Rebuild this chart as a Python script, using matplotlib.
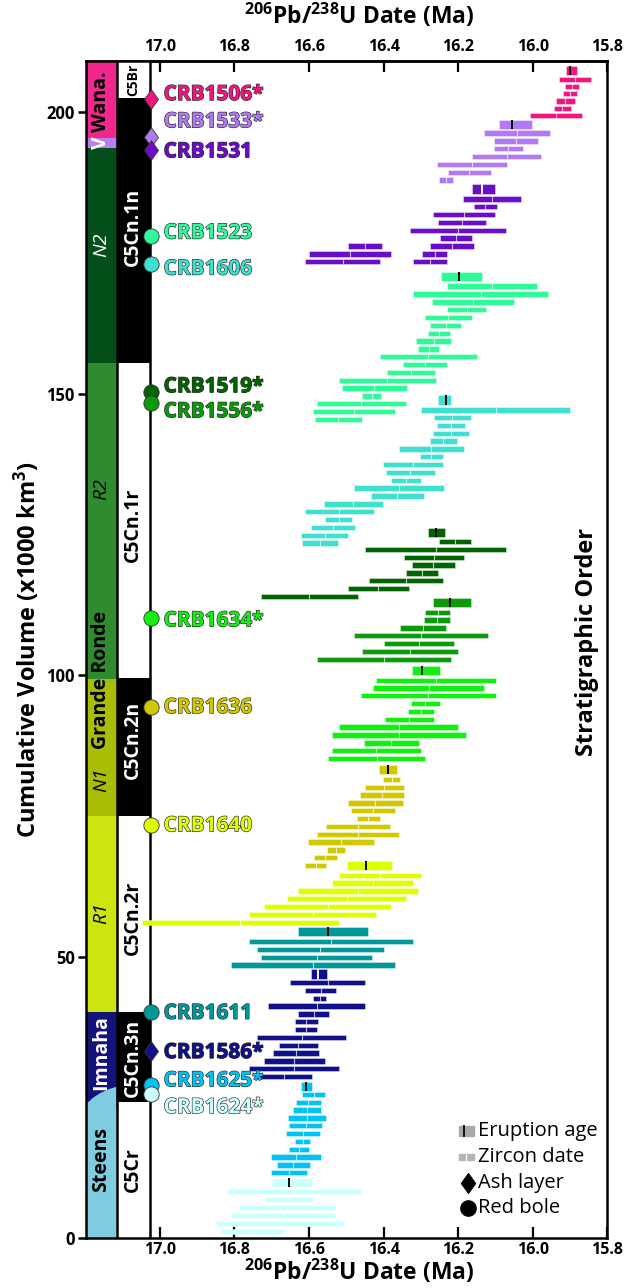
import matplotlib
matplotlib.use("Agg")
import matplotlib.pyplot as plt
import matplotlib.patheffects as pe
from matplotlib.patches import Rectangle
from matplotlib.path import Path

plt.rcParams['font.family'] = ['Open Sans', 'DejaVu Sans']
plt.rcParams['mathtext.fontset'] = 'custom'
plt.rcParams['mathtext.bf'] = 'Open Sans:bold'
plt.rcParams['mathtext.rm'] = 'Open Sans:bold'

# ---- samples (top of section to bottom) ----
sample_names = ['CRB1506*', 'CRB1533*', 'CRB1531', 'CRB1523', 'CRB1606', 'CRB1519*', 'CRB1556*',
                'CRB1634*', 'CRB1636', 'CRB1640', 'CRB1611', 'CRB1586*', 'CRB1625*', 'CRB1624*']
sample_colors = ['#F2157F', '#B27AF2', '#6A0DC8', '#2EFB98', '#40E0D0', '#006400', '#0A9A0A',
                 '#11F011', '#D1C900', '#DDFF00', '#009999', '#10108A', '#00C3F5', '#CCFFFF']
sample_kind = ['ash', 'ash', 'ash', 'bole', 'bole', 'bole', 'bole',
               'bole', 'bole', 'bole', 'bole', 'ash', 'bole', 'bole']
marker_y = [202.34, 195.65, 193.28, 178.0, 172.97, 150.35, 148.4, 110.1, 94.4, 73.4, 40.1, 33.3, 27.2, 25.6]
label_y = [203.14, 198.31, 192.98, 178.54, 172.14, 151.24, 146.80, 109.65, 94.24, 73.23, 39.92, 32.95, 27.93, 23.18]

# eruption ages: (y, oldest, youngest, weighted mean)
eruption = [(207.44, 15.911, 15.882, 15.901), (197.85, 16.091, 16.003, 16.055),
            (186.35, 16.163, 16.102, 16.137), (170.77, 16.246, 16.136, 16.197),
            (148.87, 16.254, 16.219, 16.234), (125.37, 16.282, 16.236, 16.261),
            (112.86, 16.267, 16.166, 16.222), (100.78, 16.325, 16.249, 16.296),
            (83.26, 16.412, 16.365, 16.389), (66.21, 16.498, 16.378, 16.447),
            (54.41, 16.630, 16.443, 16.550), (46.90, 16.594, 16.552, 16.576),
            (26.95, 16.621, 16.591, 16.607), (9.82, 16.699, 16.592, 16.653)]
tick_colors = ['k', 'k', 'white', 'k', 'k', 'k', 'k', 'k', 'k', 'k', 'k', 'white', 'k', 'k']

# zircon dates: (y, oldest, youngest)
z1506 = [(205.84, 15.930, 15.844), (204.53, 15.913, 15.876), (203.29, 15.920, 15.883),
         (201.99, 15.938, 15.888), (200.69, 15.944, 15.898), (199.45, 16.008, 15.867)]
z1533 = [(196.30, 16.132, 15.954), (194.88, 16.104, 15.986), (193.51, 16.105, 16.026),
         (192.09, 16.163, 15.977), (190.74, 16.257, 16.069), (189.32, 16.228, 16.113),
         (187.95, 16.252, 16.215)]
z1531 = [(184.58, 16.188, 16.032), (183.21, 16.158, 16.097), (181.79, 16.268, 16.101),
         (180.44, 16.254, 16.126), (179.02, 16.329, 16.071), (177.65, 16.248, 16.163),
         (176.23, 16.276, 16.157), (176.23, 16.495, 16.405), (174.81, 16.296, 16.231),
         (174.81, 16.600, 16.380), (173.44, 16.322, 16.231), (173.44, 16.610, 16.410)]
z1523 = [(169.12, 16.229, 15.990), (167.70, 16.320, 15.960), (166.28, 16.270, 16.050),
         (164.91, 16.229, 16.125), (163.49, 16.289, 16.164), (162.14, 16.276, 16.192),
         (160.72, 16.280, 16.223), (159.35, 16.313, 16.219), (157.93, 16.308, 16.251),
         (156.56, 16.410, 16.150), (155.14, 16.347, 16.229), (153.79, 16.391, 16.263),
         (152.37, 16.520, 16.260), (151.00, 16.513, 16.338), (149.58, 16.458, 16.407),
         (148.21, 16.579, 16.340), (146.79, 16.589, 16.370), (145.44, 16.584, 16.459)]
z1606 = [(147.09, 16.300, 15.900), (145.73, 16.266, 16.165), (144.38, 16.257, 16.182),
         (142.95, 16.269, 16.170), (141.59, 16.276, 16.204), (140.17, 16.359, 16.185),
         (138.80, 16.302, 16.242), (137.38, 16.402, 16.242), (136.03, 16.394, 16.263),
         (134.60, 16.380, 16.299), (133.24, 16.480, 16.239), (131.82, 16.433, 16.293),
         (130.40, 16.561, 16.401), (129.03, 16.612, 16.426), (127.61, 16.556, 16.485),
         (126.26, 16.594, 16.476), (124.83, 16.621, 16.496), (123.47, 16.620, 16.522)]
z1519 = [(123.70, 16.252, 16.167), (122.35, 16.449, 16.071), (120.93, 16.346, 16.184),
         (119.56, 16.325, 16.210), (118.14, 16.340, 16.255), (116.77, 16.439, 16.240),
         (115.35, 16.495, 16.333), (114.00, 16.730, 16.470)]
z1556 = [(111.15, 16.288, 16.221), (109.79, 16.293, 16.221), (108.37, 16.357, 16.232),
         (107.00, 16.480, 16.120), (105.58, 16.398, 16.211), (104.16, 16.459, 16.200),
         (102.81, 16.579, 16.220)]
z1634 = [(99.07, 16.420, 16.100), (97.71, 16.429, 16.130), (96.34, 16.460, 16.100),
         (94.92, 16.327, 16.249), (93.57, 16.335, 16.266), (92.15, 16.396, 16.266),
         (90.78, 16.520, 16.200), (89.36, 16.539, 16.180), (87.94, 16.454, 16.304),
         (86.57, 16.539, 16.300), (85.15, 16.549, 16.289)]
z1636 = [(81.49, 16.402, 16.355), (80.07, 16.451, 16.346), (78.70, 16.464, 16.346),
         (77.28, 16.496, 16.348), (75.91, 16.488, 16.369), (74.49, 16.472, 16.411),
         (73.14, 16.555, 16.383), (71.72, 16.579, 16.359), (70.35, 16.602, 16.426),
         (68.93, 16.552, 16.504), (67.56, 16.588, 16.524), (66.14, 16.610, 16.555)]
z1640 = [(64.43, 16.520, 16.300), (63.07, 16.539, 16.320), (61.64, 16.630, 16.309),
         (60.28, 16.659, 16.340), (58.86, 16.720, 16.379), (57.50, 16.760, 16.420),
         (56.08, 17.049, 16.520)]
z1611 = [(52.64, 16.760, 16.320), (51.29, 16.739, 16.400), (49.87, 16.730, 16.430),
         (48.50, 16.810, 16.370)]
z1586 = [(45.35, 16.650, 16.450), (44.00, 16.610, 16.528), (42.58, 16.589, 16.554),
         (41.21, 16.710, 16.450), (39.79, 16.630, 16.546), (38.43, 16.639, 16.576),
         (37.00, 16.638, 16.579), (35.65, 16.739, 16.500), (34.23, 16.681, 16.576),
         (32.87, 16.697, 16.572), (31.44, 16.721, 16.558), (30.08, 16.760, 16.520),
         (28.65, 16.741, 16.593)]
z1625 = [(25.53, 16.619, 16.557), (24.11, 16.636, 16.569), (22.74, 16.644, 16.567),
         (21.32, 16.656, 16.554), (19.95, 16.653, 16.566), (18.60, 16.662, 16.570),
         (17.18, 16.637, 16.597), (15.76, 16.654, 16.600), (14.39, 16.702, 16.568),
         (12.97, 16.686, 16.598), (11.60, 16.701, 16.606)]
z1624 = [(8.23, 16.820, 16.460), (6.80, 16.715, 16.589), (5.38, 16.789, 16.530),
         (4.03, 16.809, 16.530), (2.61, 16.849, 16.510), (1.19, 16.838, 16.670)]
zircons = [z1506, z1533, z1531, z1523, z1606, z1519, z1556, z1634, z1636, z1640,
           z1611, z1586, z1625, z1624]

# ---- stratigraphic column ----
strat_names = ['Wana.', 'V', 'N2', 'R2', 'N1', 'R1', 'Imnaha', 'Steens']
strat_top = [209.1, 195.47, 193.69, 155.50, 99.31, 75.02, 40.10, 26.88]
strat_bottom = [195.47, 193.69, 155.50, 99.31, 75.02, 40.10, 23.0, 0.0]
strat_colors = ['#F0278C', '#B67FF2', '#054F1A', '#2E8B2E', '#A9BD04', '#CDE40F', '#14137A', '#7FCBDF']
strat_text_y = [201.8, 194.6, 176.4, 133.1, 81.5, 57.7, 33.0, 13.9]
strat_text_color = ['k', 'white', 'white', 'k', 'k', 'k', 'white', 'k']
strat_italic = [False, False, True, True, True, True, False, False]
# curved Imnaha / Steens contact
contact_x = [17.198, 17.179, 17.161, 17.138, 17.116]
contact_y = [23.80, 24.92, 25.71, 26.42, 26.88]

# ---- magnetic polarity column ----
chron_names = ['C5Br', 'C5Cn.1n', 'C5Cn.1r', 'C5Cn.2n', 'C5Cn.2r', 'C5Cn.3n', 'C5Cr']
chron_top = [209.1, 202.47, 155.4, 99.43, 75.02, 40.2, 24.21]
chron_bottom = [202.47, 155.4, 99.43, 75.02, 40.2, 24.21, 0.0]
chron_normal = [False, True, False, True, False, True, False]
chron_text_y = [205.8, 179.6, 126.7, 88.5, 56.8, 32.0, 12.1]

x_ticks = [17.0, 16.8, 16.6, 16.4, 16.2, 16.0, 15.8]
y_ticks = [0, 50, 100, 150, 200]

X_LEFT, X_RIGHT = 17.198, 15.8
STRAT_R, CHRON_R = 17.116, 17.027
MARK_X, LABEL_X = 17.024, 16.990

fig = plt.figure(figsize=(6.24, 12.88), dpi=100)
ax = fig.add_axes([0.1378, 0.0388, 0.8357, 0.9138])
ax.set_xlim(X_LEFT, X_RIGHT)
ax.set_ylim(0, 209.1)

# stratigraphic column
for name, top, bot, col, ty, tc, it in zip(strat_names, strat_top, strat_bottom, strat_colors,
                                          strat_text_y, strat_text_color, strat_italic):
    if name == 'Steens':
        xs = [X_LEFT, STRAT_R] + contact_x[::-1] + [X_LEFT]
        ys = [0, 0] + contact_y[::-1] + [0]
        ax.fill(xs, ys, color=col, lw=0, zorder=1.1)
    else:
        ax.fill_betweenx([bot, top], X_LEFT, STRAT_R, color=col, lw=0, zorder=1)
    ax.text((X_LEFT + STRAT_R) / 2, ty, name, rotation=90, ha='center', va='center',
            rotation_mode='anchor', color=tc, fontsize=14,
            fontweight='normal' if it else 'bold', fontstyle='italic' if it else 'normal', zorder=2)
ax.text((X_LEFT + STRAT_R) / 2, 99.1, 'Grande Ronde', rotation=90, ha='center', va='center',
        rotation_mode='anchor', color='k', fontsize=14, fontweight='bold', zorder=2)

# polarity column
for name, top, bot, normal, ty in zip(chron_names, chron_top, chron_bottom, chron_normal, chron_text_y):
    ax.fill_betweenx([bot, top], STRAT_R, CHRON_R, color='k' if normal else 'white', lw=0, zorder=1)
    ax.text((STRAT_R + CHRON_R) / 2, ty, name, rotation=90, ha='center', va='center',
            rotation_mode='anchor', color='white' if normal else 'k',
            fontsize=10 if name == 'C5Br' else 14, fontweight='bold', zorder=2)
ax.axvline(STRAT_R, color='k', lw=1.8, zorder=2)
ax.axvline(CHRON_R, color='k', lw=1.8, zorder=2)

# zircon dates and eruption ages
ZH, EH = 0.95, 1.65
for col, rows, er, tcol in zip(sample_colors, zircons, eruption, tick_colors):
    for y, old, young in rows:
        ax.barh(y, old - young, left=young, height=ZH, color=col,
                edgecolor=(1, 1, 1, 0.45), linewidth=0.6, zorder=3)
        ax.vlines((old + young) / 2, y - ZH / 2, y + ZH / 2, color='white', lw=0.8, alpha=0.7, zorder=3.1)
    y, old, young, mean = er
    ax.barh(y, old - young, left=young, height=EH, color=col,
            edgecolor=(1, 1, 1, 0.45), linewidth=0.6, zorder=3)
    ax.vlines(mean, y - EH / 2, y + EH / 2, color=tcol, lw=1.4, zorder=3.1)

# sample markers and labels
diamond = Path([(0, 1), (0.72, 0), (0, -1), (-0.72, 0), (0, 1)],
               [Path.MOVETO, Path.LINETO, Path.LINETO, Path.LINETO, Path.CLOSEPOLY])
for name, col, kind, my, ly in zip(sample_names, sample_colors, sample_kind, marker_y, label_y):
    if kind == 'ash':
        ax.plot(MARK_X, my, marker=diamond, ms=14, color=col, mec='#333333', mew=0.6,
                zorder=5, clip_on=False)
    else:
        ax.plot(MARK_X, my, marker='o', ms=11, color=col, mec='#333333', mew=0.6,
                zorder=5, clip_on=False)
    ax.text(LABEL_X, ly, name, ha='left', va='center', fontsize=15, fontweight='bold', color=col,
            zorder=6, path_effects=[pe.withStroke(linewidth=0.9, foreground='#2a2a2a')])

# axes styling
for s in ax.spines.values():
    s.set_linewidth(1.8)
    s.set_zorder(7)
ax.set_xticks(x_ticks)
ax.set_xticklabels(['%.1f' % t for t in x_ticks])
ax.set_yticks(y_ticks)
ax.tick_params(axis='x', direction='in', length=8, width=1.6, labelsize=11.5, pad=3)
ax.tick_params(axis='y', direction='out', length=6, width=1.8, labelsize=12, pad=2)
for lab in ax.get_xticklabels() + ax.get_yticklabels():
    lab.set_fontweight('bold')
ax.set_ylabel('Cumulative Volume (x1000 km$\\mathbf{^3}$)', fontsize=17, fontweight='bold', labelpad=3)

sec = ax.secondary_xaxis('top')
sec.set_xticks(x_ticks)
sec.set_xticklabels(['%.1f' % t for t in x_ticks])
sec.tick_params(direction='in', length=8, width=1.6, labelsize=11.5, pad=4)
for lab in sec.get_xticklabels():
    lab.set_fontweight('bold')
sec.spines['top'].set_linewidth(1.8)

# axis titles placed against the figure edges
xlabel = r'$\mathbf{^{206}}$Pb/$\mathbf{^{238}}$U Date (Ma)'
fig.text(0.575, 0.9985, xlabel, ha='center', va='top', fontsize=16.5, fontweight='bold')
fig.text(0.575, 0.0015, xlabel, ha='center', va='bottom', fontsize=16.5, fontweight='bold')

ax.text(0.9607, 0.5064, 'Stratigraphic Order', transform=ax.transAxes, rotation=90,
        ha='center', va='center', fontsize=17, fontweight='bold')

# legend (drawn by hand)
tr = ax.transAxes
ax.add_patch(Rectangle((0.715, 0.0869), 0.029, 0.008, transform=tr, color='#A8A8A8', zorder=4))
ax.plot([0.7255, 0.7255], [0.0869, 0.0949], transform=tr, color='k', lw=1.3, zorder=5)
ax.add_patch(Rectangle((0.715, 0.0666), 0.029, 0.0045, transform=tr, color='#B4B4B4', zorder=4))
ax.plot([0.7295, 0.7295], [0.0666, 0.0711], transform=tr, color='white', lw=0.8, zorder=5)
ax.plot(0.7325, 0.0467, transform=tr, marker=diamond, ms=14, color='k', zorder=5)
ax.plot(0.7325, 0.0255, transform=tr, marker='o', ms=11, color='k', zorder=5)
for ty, txt in zip([0.0909, 0.0688, 0.0467, 0.0255], ['Eruption age', 'Zircon date', 'Ash layer', 'Red bole']):
    ax.text(0.7517, ty, txt, transform=tr, ha='left', va='center', fontsize=14.5, zorder=5)

fig.savefig('out.png', dpi=100)
